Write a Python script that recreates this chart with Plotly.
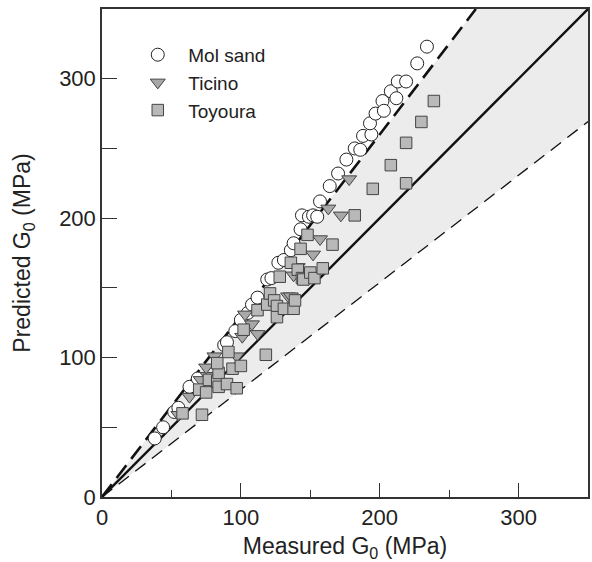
import plotly.graph_objects as go

# Mol sand (measured, predicted) in MPa
mol_x = [38, 44, 52, 55, 63, 69, 88, 90, 96, 100, 105, 108, 112, 119, 122, 127, 131, 136,
         138, 143, 144, 149, 152, 155, 157, 164, 170, 176, 182, 186, 188, 194, 193, 197,
         202, 203, 208, 212, 213, 219, 227, 234]
mol_y = [42, 50, 61, 64, 79, 85, 109, 111, 119, 127, 132, 138, 143, 156, 157, 168, 170, 177,
         182, 192, 202, 201, 202, 201, 212, 223, 232, 242, 250, 249, 259, 260, 268, 275,
         284, 277, 291, 286, 298, 298, 311, 323]

# Ticino
tic_x = [55, 63, 71, 76, 75, 81, 97, 101, 103, 108, 112, 134, 136, 138, 141, 152, 157,
         163, 172, 178]
tic_y = [59, 72, 84, 87, 93, 101, 101, 115, 131, 124, 117, 144, 144, 159, 165, 174, 185,
         207, 202, 228]

# Toyoura
toy_x = [58, 72, 70, 75, 77, 83, 84, 84, 83, 90, 91, 94, 97, 100, 102, 112, 118, 119, 121,
         124, 126, 126, 128, 131, 136, 138, 139, 141, 143, 144, 145, 148, 150, 153, 159,
         166, 182, 195, 208, 219, 219, 230, 239]
toy_y = [60, 59, 77, 75, 84, 83, 79, 89, 96, 81, 104, 92, 78, 94, 120, 134, 102, 138, 146,
         141, 137, 129, 158, 135, 168, 135, 141, 163, 178, 157, 156, 188, 161, 157, 164,
         181, 202, 221, 238, 254, 225, 269, 284]

# Axis extent and the +/- 30 % bounds around the 1:1 line
axis_max = 350
ratio = 1.3

FONT = "Liberation Sans, Arial, sans-serif"

fig = go.Figure()

# shaded band between the two bounds
top_x = axis_max / ratio
fig.add_trace(go.Scatter(
    x=[0, top_x, axis_max, axis_max, 0],
    y=[0, axis_max, axis_max, axis_max / ratio, 0],
    fill="toself", fillcolor="#ececec", line=dict(width=0),
    mode="lines", showlegend=False, hoverinfo="skip"))

# upper bound (heavy dashes)
fig.add_trace(go.Scatter(
    x=[0, top_x], y=[0, axis_max], mode="lines",
    line=dict(color="#111", width=2.6, dash="16px,8px"),
    showlegend=False, hoverinfo="skip"))

# lower bound (light dashes)
fig.add_trace(go.Scatter(
    x=[0, axis_max], y=[0, axis_max / ratio], mode="lines",
    line=dict(color="#111", width=1.3, dash="13px,8px"),
    showlegend=False, hoverinfo="skip"))

# 1:1 line
fig.add_trace(go.Scatter(
    x=[0, axis_max], y=[0, axis_max], mode="lines",
    line=dict(color="#111", width=2.4),
    showlegend=False, hoverinfo="skip"))

fig.add_trace(go.Scatter(
    x=mol_x, y=mol_y, mode="markers", name="Mol sand",
    marker=dict(symbol="circle", size=13, color="white",
                line=dict(color="#222", width=1))))

fig.add_trace(go.Scatter(
    x=tic_x, y=tic_y, mode="markers", name="Ticino",
    marker=dict(symbol="triangle-down", size=13, color="#a8a8a8",
                line=dict(color="#444", width=1))))

fig.add_trace(go.Scatter(
    x=toy_x, y=toy_y, mode="markers", name="Toyoura",
    marker=dict(symbol="square", size=11.5, color="#b9b9b9",
                line=dict(color="#444", width=1))))

axis_common = dict(
    range=[0, axis_max], showgrid=False, zeroline=False,
    showline=True, linecolor="#333", linewidth=1.5, mirror=True,
    ticks="inside", tickcolor="#333", tickwidth=1.3,
    tickfont=dict(family=FONT, size=22, color="#222"),
)

fig.update_xaxes(
    **axis_common, dtick=100, tick0=0, ticklen=14,
    minor=dict(dtick=50, tick0=0, ticklen=7, ticks="inside", tickcolor="#333",
               tickwidth=1.3),
    title=dict(text="Measured G<sub>0</sub> (MPa)", standoff=10,
               font=dict(family=FONT, size=23, color="#222")))

y_ticks = [0, 50, 100, 150, 200, 250, 300]
fig.update_yaxes(
    **axis_common, tickvals=y_ticks,
    ticktext=[str(v) if v % 100 == 0 else "" for v in y_ticks], ticklen=15,
    title=dict(text="Predicted G<sub>0</sub> (MPa)", standoff=22,
               font=dict(family=FONT, size=23, color="#222")))

fig.update_layout(
    width=592, height=562,
    margin=dict(l=102, r=2, t=9, b=65),
    plot_bgcolor="white", paper_bgcolor="white",
    legend=dict(x=0.052, y=0.945, xanchor="left", yanchor="top",
                bgcolor="rgba(0,0,0,0)", borderwidth=0,
                font=dict(family=FONT, size=19, color="#222"),
                itemwidth=51, tracegroupgap=0),
)

fig.write_html("out.html")
